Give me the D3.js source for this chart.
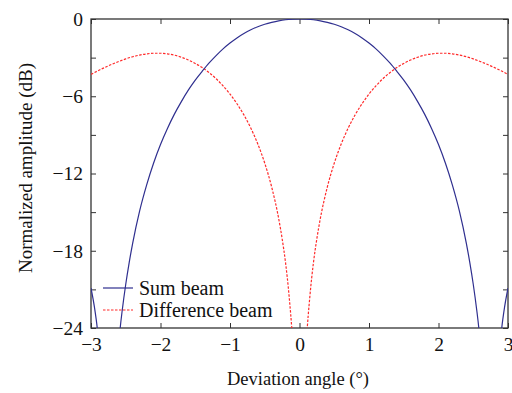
<!DOCTYPE html>
<html>
<head>
<meta charset="utf-8">
<script src="https://cdn.jsdelivr.net/npm/d3@7"></script>
<style>
  html, body { margin: 0; padding: 0; background: #fff; }
  text { font-family: "Liberation Serif", "DejaVu Serif", serif; fill: #111; }
</style>
</head>
<body>
<div id="chart"></div>
<script>
// values
var sumAngles = [-3.0, -2.95, -2.91, -2.86, -2.62, -2.6, -2.58, -2.55, -2.5, -2.45, -2.4, -2.3, -2.2, -2.1, -2.0,
  -1.9, -1.8, -1.7, -1.6, -1.5, -1.4, -1.3, -1.2, -1.1, -1.0, -0.9, -0.8, -0.7, -0.6, -0.5, -0.4, -0.3, -0.2, -0.1,
  0, 0.1, 0.2, 0.3, 0.4, 0.5, 0.6, 0.7, 0.8, 0.9, 1.0, 1.1, 1.2, 1.3, 1.4, 1.5, 1.6, 1.7, 1.8, 1.9,
  2.0, 2.1, 2.2, 2.3, 2.4, 2.45, 2.5, 2.55, 2.58, 2.6, 2.62, 2.86, 2.91, 2.95, 3.0];
var sumDb = [-20.9, -22.4, -24.0, -27, -27, -25.2, -24.0, -22.6, -20.6, -18.9, -17.4, -14.9, -12.9, -11.2, -9.75,
  -8.5, -7.39, -6.42, -5.53, -4.75, -4.06, -3.41, -2.84, -2.32, -1.87, -1.47, -1.13, -0.84, -0.60, -0.41, -0.26, -0.14, -0.06, -0.02,
  0, -0.02, -0.06, -0.14, -0.26, -0.41, -0.60, -0.84, -1.13, -1.47, -1.87, -2.32, -2.84, -3.41, -4.06, -4.75, -5.53, -6.42, -7.39, -8.5,
  -9.75, -11.2, -12.9, -14.9, -17.4, -18.9, -20.6, -22.6, -24.0, -25.2, -27, -27, -24.0, -22.4, -20.9];

var diffAngles = [-3.0, -2.9, -2.8, -2.7, -2.6, -2.5, -2.4, -2.3, -2.2, -2.1, -2.0, -1.9, -1.8, -1.7, -1.6, -1.5,
  -1.4, -1.3, -1.2, -1.1, -1.0, -0.9, -0.8, -0.7, -0.6, -0.5, -0.4, -0.3, -0.25, -0.2, -0.15, -0.1, -0.05,
  0, 0.05, 0.1, 0.15, 0.2, 0.25, 0.3, 0.4, 0.5, 0.6, 0.7, 0.8, 0.9, 1.0, 1.1, 1.2, 1.3, 1.4,
  1.5, 1.6, 1.7, 1.8, 1.9, 2.0, 2.1, 2.2, 2.3, 2.4, 2.5, 2.6, 2.7, 2.8, 2.9, 3.0];
var diffDb = [-4.3, -4.02, -3.76, -3.52, -3.3, -3.1, -2.93, -2.8, -2.71, -2.66, -2.66, -2.71, -2.81, -2.97, -3.18, -3.45,
  -3.77, -4.17, -4.64, -5.19, -5.83, -6.58, -7.45, -8.48, -9.71, -11.2, -13.06, -15.49, -17.06, -18.96, -21.5, -25.0, -31.0,
  -40, -31.0, -25.0, -21.5, -18.96, -17.06, -15.49, -13.06, -11.2, -9.71, -8.48, -7.45, -6.58, -5.83, -5.19, -4.64, -4.17, -3.77,
  -3.45, -3.18, -2.97, -2.81, -2.71, -2.66, -2.66, -2.71, -2.8, -2.93, -3.1, -3.3, -3.52, -3.76, -4.02, -4.3];

var xTicks = [-3, -2, -1, 0, 1, 2, 3];
var yTicks = [0, -3, -6, -9, -12, -15, -18, -21, -24];
var yLabelTicks = [0, -6, -12, -18, -24];
var seriesNames = ["Sum beam", "Difference beam"];

var W = 512, H = 393;
var pLeft = 91, pRight = 508, pTop = 19, pBottom = 328;

var svg = d3.select("#chart").append("svg")
  .attr("width", W)
  .attr("height", H)
  .style("display", "block");

var x = d3.scaleLinear().domain([-3, 3]).range([pLeft, pRight]);
var y = d3.scaleLinear().domain([-24, 0]).range([pBottom, pTop]);

svg.append("defs").append("clipPath").attr("id", "plotclip")
  .append("rect")
  .attr("x", pLeft).attr("y", pTop)
  .attr("width", pRight - pLeft).attr("height", pBottom - pTop);

var fmt = function(d) { return d < 0 ? "\u2212" + Math.abs(d) : "" + d; };

// axes: ticks inward on all four sides
var tickLen = 5;
svg.append("g")
  .attr("transform", "translate(0," + pBottom + ")")
  .call(d3.axisBottom(x).tickValues(xTicks).tickSizeInner(-tickLen).tickSizeOuter(0).tickPadding(9).tickFormat(fmt))
  .call(function(g) {
    g.select(".domain").remove();
    g.selectAll("line").attr("stroke", "#333");
    g.selectAll("text").style("font-size", "19.5px")
      .attr("font-family", "Liberation Serif").attr("fill", "#111");
  });

svg.append("g")
  .attr("transform", "translate(0," + pTop + ")")
  .call(d3.axisTop(x).tickValues(xTicks).tickSizeInner(-tickLen).tickSizeOuter(0).tickFormat(""))
  .call(function(g) {
    g.select(".domain").remove();
    g.selectAll("line").attr("stroke", "#333");
  });

svg.append("g")
  .attr("transform", "translate(" + pLeft + ",0)")
  .call(d3.axisLeft(y).tickValues(yTicks).tickSizeInner(-tickLen).tickSizeOuter(0).tickPadding(8)
    .tickFormat(function(d) { return yLabelTicks.indexOf(d) >= 0 ? fmt(d) : ""; }))
  .call(function(g) {
    g.select(".domain").remove();
    g.selectAll("line").attr("stroke", "#333");
    g.selectAll("text").style("font-size", "19.5px")
      .attr("font-family", "Liberation Serif").attr("fill", "#111");
  });

svg.append("g")
  .attr("transform", "translate(" + pRight + ",0)")
  .call(d3.axisRight(y).tickValues(yTicks).tickSizeInner(-tickLen).tickSizeOuter(0).tickFormat(""))
  .call(function(g) {
    g.select(".domain").remove();
    g.selectAll("line").attr("stroke", "#333");
  });

// frame
svg.append("rect")
  .attr("x", pLeft).attr("y", pTop)
  .attr("width", pRight - pLeft).attr("height", pBottom - pTop)
  .attr("fill", "none")
  .attr("stroke", "#333")
  .attr("stroke-width", 1.3);

var line = d3.line()
  .x(function(d) { return x(d[0]); })
  .y(function(d) { return y(d[1]); })
  .curve(d3.curveMonotoneX);

var sumData = sumAngles.map(function(a, i) { return [a, sumDb[i]]; });
var diffData = diffAngles.map(function(a, i) { return [a, diffDb[i]]; });

var plot = svg.append("g").attr("clip-path", "url(#plotclip)");

plot.append("path")
  .datum(diffData)
  .attr("d", line)
  .attr("fill", "none")
  .attr("stroke", "#ff2a2a")
  .attr("stroke-width", 1.2)
  .attr("stroke-dasharray", "2.5,1.5");

plot.append("path")
  .datum(sumData)
  .attr("d", line)
  .attr("fill", "none")
  .attr("stroke", "#2f2f8f")
  .attr("stroke-width", 1.2);

// legend
var legend = svg.append("g");
var legendY = [288, 310];
var legendStyle = [
  {stroke: "#2f2f8f", dash: null},
  {stroke: "#ff2a2a", dash: "2.5,1.5"}
];
seriesNames.forEach(function(name, i) {
  legend.append("line")
    .attr("x1", 103).attr("x2", 133)
    .attr("y1", legendY[i]).attr("y2", legendY[i])
    .attr("stroke", legendStyle[i].stroke)
    .attr("stroke-width", 1.2)
    .attr("stroke-dasharray", legendStyle[i].dash);
  legend.append("text")
    .attr("x", 139)
    .attr("y", legendY[i] + 6.5)
    .style("font-size", "20px")
    .text(name);
});

// axis titles
svg.append("text")
  .attr("x", 298)
  .attr("y", 385)
  .attr("text-anchor", "middle")
  .style("font-size", "18.5px")
  .text("Deviation angle (\u00b0)");

svg.append("text")
  .attr("transform", "translate(32,168)rotate(-90)")
  .attr("text-anchor", "middle")
  .style("font-size", "19px")
  .text("Normalized amplitude (dB)");
</script>
</body>
</html>
